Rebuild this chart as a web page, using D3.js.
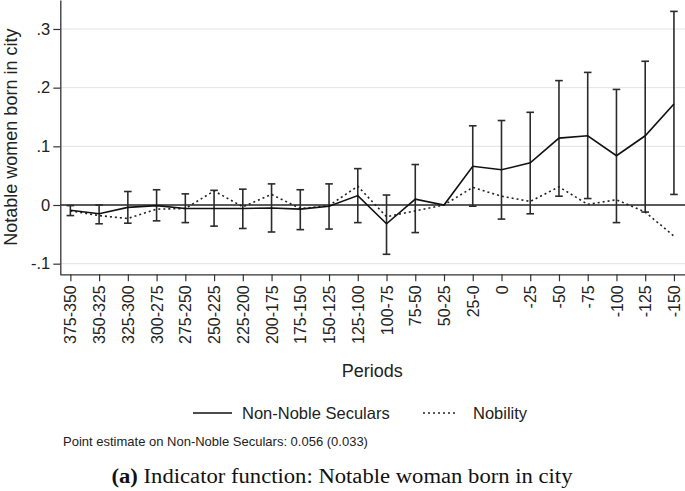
<!DOCTYPE html>
<html>
<head>
<meta charset="utf-8">
<script src="https://cdn.jsdelivr.net/npm/d3@7"></script>
<style>
  html, body { margin: 0; padding: 0; background: #fff; }
  svg { display: block; }
</style>
</head>
<body>
<svg id="chart" width="685" height="491"></svg>
<script>
// ---- data ----
const periods = ["375-350","350-325","325-300","300-275","275-250","250-225","225-200","200-175","175-150","150-125","125-100","100-75","75-50","50-25","25-0","0","-25","-50","-75","-100","-125","-150"];
const seculars   = [-0.009,-0.015,-0.004,-0.001,-0.006,-0.006,-0.006,-0.005,-0.007,-0.002,0.016,-0.032,0.010,0.000,0.066,0.060,0.072,0.114,0.118,0.084,0.118,0.172];
const secularsLo = [-0.018,-0.032,-0.031,-0.027,-0.030,-0.036,-0.040,-0.046,-0.042,-0.041,-0.030,-0.084,-0.047,0.000,-0.002,-0.024,-0.015,0.015,0.011,-0.030,-0.012,0.018];
const secularsHi = [-0.001,0.000,0.023,0.026,0.019,0.025,0.027,0.036,0.026,0.036,0.062,0.017,0.069,0.000,0.135,0.144,0.158,0.212,0.226,0.197,0.245,0.330];
const nobility   = [-0.010,-0.018,-0.023,-0.007,-0.006,0.024,-0.003,0.018,-0.006,-0.001,0.032,-0.020,-0.010,0.000,0.030,0.015,0.006,0.031,0.001,0.009,-0.012,-0.053];
const yTicks = [-0.1, 0, 0.1, 0.2, 0.3];
const yTickLabels = ["-.1", "0", ".1", ".2", ".3"];
const seriesNames = ["Non-Noble Seculars", "Nobility"];
const yTitle = "Notable women born in city";
const xTitle = "Periods";
const note = "Point estimate on Non-Noble Seculars: 0.056 (0.033)";
const captionBold = "(a)";
const captionText = " Indicator function: Notable woman born in city";

// ---- layout ----
const svg = d3.select("#chart");
const pLeft = 60.3, pRight = 684, pTop = 0, pBottom = 274.3;
const SANS = "'Liberation Sans', Arial, sans-serif";

const x = d3.scalePoint().domain(periods).range([pLeft, pRight]).padding(0.35);
const y = d3.scaleLinear().domain([-0.1181, 0.3494]).range([pBottom, pTop]);

// grid
svg.append("g").selectAll("line").data(yTicks.filter(d => d !== 0)).join("line")
  .attr("x1", pLeft).attr("x2", pRight + 1)
  .attr("y1", d => y(d)).attr("y2", d => y(d))
  .attr("stroke", "#e3e3e3").attr("stroke-width", 1);

// zero line
svg.append("line")
  .attr("x1", pLeft).attr("x2", pRight + 1)
  .attr("y1", y(0)).attr("y2", y(0))
  .attr("stroke", "#5a5a5a").attr("stroke-width", 1.8);

// error bars
const idx = d3.range(periods.length).filter(i => secularsLo[i] !== secularsHi[i]);
const eb = svg.append("g").attr("stroke", "#2b2b2b").attr("stroke-width", 1.6);
eb.selectAll("line.v").data(idx).join("line").attr("class", "v")
  .attr("x1", i => x(periods[i])).attr("x2", i => x(periods[i]))
  .attr("y1", i => y(secularsLo[i])).attr("y2", i => y(secularsHi[i]));
eb.selectAll("line.lo").data(idx).join("line").attr("class", "lo")
  .attr("x1", i => x(periods[i]) - 3.8).attr("x2", i => x(periods[i]) + 3.8)
  .attr("y1", i => y(secularsLo[i])).attr("y2", i => y(secularsLo[i]));
eb.selectAll("line.hi").data(idx).join("line").attr("class", "hi")
  .attr("x1", i => x(periods[i]) - 3.8).attr("x2", i => x(periods[i]) + 3.8)
  .attr("y1", i => y(secularsHi[i])).attr("y2", i => y(secularsHi[i]));

// lines
const line = d3.line().x((d, i) => x(periods[i])).y(d => y(d));
svg.append("path").datum(nobility).attr("d", line)
  .attr("fill", "none").attr("stroke", "#222").attr("stroke-width", 1.6)
  .attr("stroke-dasharray", "2,3");
svg.append("path").datum(seculars).attr("d", line)
  .attr("fill", "none").attr("stroke", "#111").attr("stroke-width", 1.6);

// axes
const yAxis = svg.append("g")
  .attr("transform", `translate(${pLeft},0)`)
  .call(d3.axisLeft(y).tickValues(yTicks).tickFormat((d, i) => yTickLabels[i]).tickSize(7).tickSizeOuter(0).tickPadding(3));
yAxis.selectAll("text").attr("font-size", "16.5px").attr("fill", "#222")
  .attr("font-family", SANS);
yAxis.selectAll("line").attr("stroke", "#333").attr("stroke-width", 1.2);
yAxis.select(".domain").attr("stroke", "#333").attr("stroke-width", 1.3);

const xAxis = svg.append("g")
  .attr("transform", `translate(0,${pBottom})`)
  .call(d3.axisBottom(x).tickSize(7).tickSizeOuter(0));
xAxis.select(".domain").attr("d", `M${pLeft},0.5H${pRight + 1}`).attr("stroke", "#333").attr("stroke-width", 1.3);
xAxis.selectAll("line").attr("stroke", "#333").attr("stroke-width", 1.2);
xAxis.selectAll("text")
  .attr("font-size", "16px").attr("fill", "#222")
  .attr("font-family", SANS)
  .attr("transform", "rotate(-90)")
  .attr("text-anchor", "end")
  .attr("x", -11).attr("y", 0).attr("dy", "0.35em");

// axis titles
svg.append("text")
  .attr("transform", `translate(16.5,${(pTop + pBottom) / 2}) rotate(-90)`)
  .attr("text-anchor", "middle")
  .attr("font-family", SANS)
  .attr("font-size", "18px").attr("fill", "#222")
  .text(yTitle);

svg.append("text")
  .attr("x", (pLeft + pRight) / 2).attr("y", 377)
  .attr("text-anchor", "middle")
  .attr("font-family", SANS)
  .attr("font-size", "18px").attr("fill", "#222")
  .text(xTitle);

// legend
const lg = svg.append("g").attr("font-family", SANS).attr("font-size", "16.5px").attr("fill", "#222");
lg.append("line").attr("x1", 193).attr("x2", 232).attr("y1", 413).attr("y2", 413)
  .attr("stroke", "#111").attr("stroke-width", 1.6);
lg.append("text").attr("x", 242).attr("y", 419).text(seriesNames[0]);
lg.append("line").attr("x1", 423).attr("x2", 457).attr("y1", 413).attr("y2", 413)
  .attr("stroke", "#222").attr("stroke-width", 1.6).attr("stroke-dasharray", "2,3");
lg.append("text").attr("x", 473).attr("y", 419).text(seriesNames[1]);

// note
svg.append("text").attr("x", 63).attr("y", 446)
  .attr("font-family", SANS)
  .attr("font-size", "13px").attr("fill", "#222")
  .text(note);

// caption
const cap = svg.append("text").attr("x", 342).attr("y", 483)
  .attr("text-anchor", "middle")
  .attr("font-family", "'Liberation Serif', 'Times New Roman', serif")
  .attr("font-size", "20.5px").attr("fill", "#111")
  .attr("textLength", 461).attr("lengthAdjust", "spacingAndGlyphs");
cap.append("tspan").attr("font-weight", "bold").text(captionBold);
cap.append("tspan").text(captionText);
</script>
</body>
</html>
